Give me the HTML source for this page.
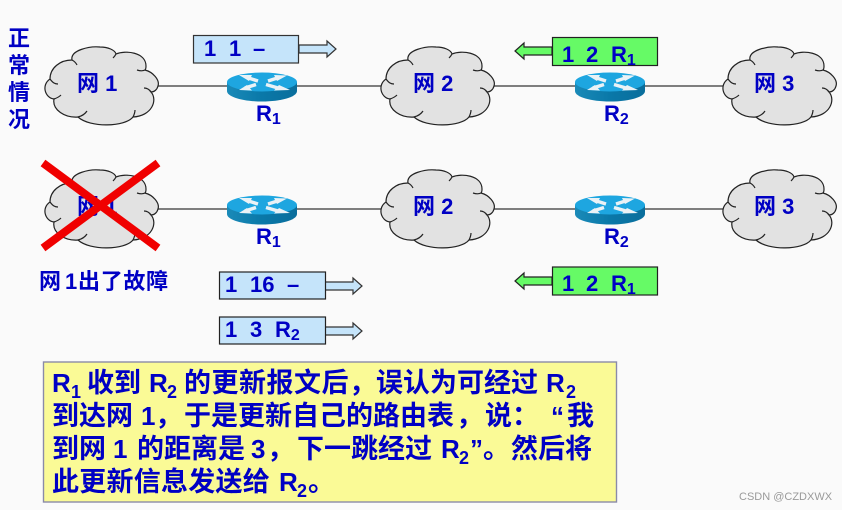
<!DOCTYPE html>
<html><head><meta charset="utf-8"><style>
html,body{margin:0;padding:0;background:#fafafa}
svg{display:block}
text{font-family:"Liberation Sans","Noto Sans CJK SC",sans-serif;font-weight:700;fill:#0000c4;text-spacing-trim:space-all}
.sub{font-size:16px}
.c{font-size:27px}
.l{font-size:26px}
.s{font-size:18px}
</style></head><body>
<svg width="842" height="510" viewBox="0 0 842 510" xmlns="http://www.w3.org/2000/svg">
<defs>
<g id="cl" fill="none" stroke="#222" stroke-width="1.2">
<path fill="#e2e2e2" d="M50 79C50 68 60 60 72 60C70 50 90 46 100 47C108 47 115 50 116 54C125 50 146 52 146 66C146 68 146 69 145 70C153 72 160 80 158 86C157 90 154 92 151 92C158 100 152 116 133 117C125 127 90 128 78 117C65 118 52 110 54 99C45 98 41 85 50 79Z"/>
<path d="M50 79C53 83 55 84 58 84M72 60C74 61 76 63 77 65M116 54C115 56 114 57 113 58M145 70C143 71 140 71 137 70M151 92C149 89 146 88 144 88M135 110C135 113 134 115 133 117M78 117C82 116 85 114 87 111M54 99C57 98 59 97 61 95"/>
</g>
<linearGradient id="sd" x1="0" x2="1" y1="0" y2="0"><stop offset="0" stop-color="#1a8ab8"/><stop offset="0.5" stop-color="#0a78a8"/><stop offset="1" stop-color="#0a6e9c"/></linearGradient>
<g id="rt">
<path d="M227 82V91C227 97 243 101.500 262 101.500C281 101.500 297 97 297 91V82Z" fill="url(#sd)"/>
<ellipse cx="262" cy="82" rx="35" ry="9.500" fill="#1ea6e0"/>
<g stroke="#eaf2f6" stroke-width="3.500" fill="#eaf2f6">
<line x1="247" y1="77.500" x2="258" y2="81"/>
<line x1="266" y1="84.500" x2="278" y2="88"/>
<line x1="279" y1="77.500" x2="268" y2="81"/>
<line x1="256" y1="84.500" x2="245" y2="88"/>
</g>
<g fill="#eaf2f6">
<path d="M239 75L252 75L249 81Z"/>
<path d="M287 75.500L274 75L277 81Z"/>
<path d="M290 90L274 90.500L279 85Z"/>
<path d="M239 90L252 90.500L247 85Z"/>
</g>
</g>
<g id="ra"><path d="M0 -4H28V-8L37 0L28 8V4H0Z" fill="#c5e4fa" stroke="#333" stroke-width="1.2"/></g>
<g id="ga"><path d="M0 -4H-28V-8L-37 0L-28 8V4H0Z" fill="#66fa66" stroke="#222" stroke-width="1.2"/></g>
</defs>

<g stroke="#555" stroke-width="1.5">
<line x1="150" y1="86" x2="760" y2="86"/>
<line x1="150" y1="209" x2="760" y2="209"/>
</g>

<use href="#cl"/><use href="#cl" x="336"/><use href="#cl" x="678"/>
<use href="#cl" y="123"/><use href="#cl" x="336" y="123"/><use href="#cl" x="678" y="123"/>
<use href="#rt"/><use href="#rt" x="348"/>
<use href="#rt" y="123"/><use href="#rt" x="348" y="123"/>

<text x="77" y="91" font-size="22">网 1</text>
<text x="413" y="91" font-size="22">网 2</text>
<text x="754" y="91" font-size="22">网 3</text>
<text x="77" y="214" font-size="22">网 1</text>
<text x="413" y="214" font-size="22">网 2</text>
<text x="754" y="214" font-size="22">网 3</text>

<text x="8" y="46" font-size="22">正</text>
<text x="8" y="73" font-size="22">常</text>
<text x="8" y="100" font-size="22">情</text>
<text x="8" y="127" font-size="22">况</text>
<text x="39" y="289" font-size="22">网</text>
<text x="65" y="289" font-size="22">1</text>
<text x="78" y="289" font-size="22" letter-spacing="0.700">出了故障</text>

<text x="256" y="121" font-size="22">R<tspan class="sub" dy="3">1</tspan></text>
<text x="604" y="121" font-size="22">R<tspan class="sub" dy="3">2</tspan></text>
<text x="256" y="244" font-size="22">R<tspan class="sub" dy="3">1</tspan></text>
<text x="604" y="244" font-size="22">R<tspan class="sub" dy="3">2</tspan></text>

<use href="#ra" transform="translate(299,49)"/>
<rect x="193.500" y="35.500" width="105" height="27.500" fill="#c5e4fa" stroke="#333" stroke-width="1.2"/>
<text y="56" font-size="22"><tspan x="204">1</tspan><tspan x="229">1</tspan><tspan x="253">–</tspan></text>

<use href="#ga" transform="translate(552,51)"/>
<rect x="552.500" y="37.500" width="105" height="28" fill="#66fa66" stroke="#222" stroke-width="1.2"/>
<text y="62" font-size="22"><tspan x="562">1</tspan><tspan x="586">2</tspan><tspan x="611">R</tspan><tspan class="sub" dy="3">1</tspan></text>

<use href="#ga" transform="translate(552,281)"/>
<rect x="552.500" y="267" width="105" height="28" fill="#66fa66" stroke="#222" stroke-width="1.2"/>
<text y="291" font-size="22"><tspan x="562">1</tspan><tspan x="586">2</tspan><tspan x="611">R</tspan><tspan class="sub" dy="3">1</tspan></text>

<use href="#ra" transform="translate(325,286)"/>
<rect x="219.500" y="272" width="106" height="27" fill="#c5e4fa" stroke="#222" stroke-width="1.2"/>
<text y="292" font-size="22"><tspan x="225">1</tspan><tspan x="250">16</tspan><tspan x="287">–</tspan></text>

<use href="#ra" transform="translate(325,331)"/>
<rect x="219.500" y="317" width="106" height="27" fill="#c5e4fa" stroke="#222" stroke-width="1.2"/>
<text y="337" font-size="22"><tspan x="225">1</tspan><tspan x="250">3</tspan><tspan x="275">R</tspan><tspan class="sub" dy="3">2</tspan></text>

<g stroke="#f00000" stroke-width="8">
<line x1="43" y1="163" x2="158" y2="248"/>
<line x1="158" y1="163" x2="43" y2="248"/>
</g>

<rect x="43.500" y="362" width="573" height="140" fill="#fafa96" stroke="#8a8aa8" stroke-width="1.4"/>

<text class="l" x="52" y="392">R</text><text class="s" x="71" y="398">1</text>
<text class="c" x="87" y="392">收到</text>
<text class="l" x="149" y="392">R</text><text class="s" x="167" y="398">2</text>
<text class="c" x="184" y="392" letter-spacing="0.500">的更新报文后，</text>
<text class="c" x="376" y="392">误认为可经过</text>
<text class="l" x="546" y="392">R</text><text class="s" x="566" y="398">2</text>

<text class="c" x="52" y="425">到达网</text>
<text class="l" x="141" y="425">1</text>
<text class="c" x="155" y="425">，</text>
<text class="c" x="184" y="425">于是更新自己的路由表</text>
<text class="c" x="456" y="425">，</text>
<text class="c" x="485" y="425">说：</text>
<text class="l" x="551" y="425">“</text>
<text class="c" x="567" y="425">我</text>

<text class="c" x="52" y="458">到网</text>
<text class="l" x="113" y="458">1</text>
<text class="c" x="137" y="458">的距离是</text>
<text class="l" x="251" y="458">3</text>
<text class="c" x="267" y="458">，</text>
<text class="c" x="297" y="458">下一跳经过</text>
<text class="l" x="441" y="458">R</text><text class="s" x="459" y="464">2</text>
<text class="l" x="470" y="458">”</text>
<text class="c" x="483" y="458">。</text>
<text class="c" x="511" y="458">然后将</text>

<text class="c" x="52" y="491" letter-spacing="0.250">此更新信息发送给</text>
<text class="l" x="279" y="491">R</text><text class="s" x="297" y="497">2</text>
<text class="c" x="308" y="491">。</text>

<text x="739" y="500" font-size="11" style="font-weight:400;fill:#9a9a9a">CSDN @CZDXWX</text>
</svg>
</body></html>
